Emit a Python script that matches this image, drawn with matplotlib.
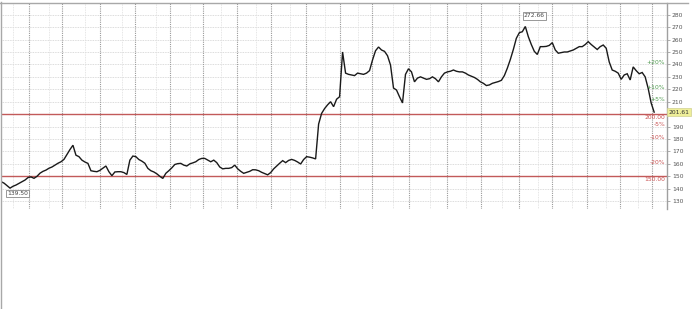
import matplotlib
matplotlib.use("Agg")
import matplotlib.pyplot as plt
from matplotlib.lines import Line2D
import numpy as np

# Closing prices, sampled at regular steps along the chart
close = [
    145.7, 144.5, 142.5, 140.5, 142.0, 143.0, 144.3, 145.5, 147.0, 149.0,
    149.5, 148.4, 150.0, 152.5, 154.0, 155.0, 156.5, 157.5, 159.0, 160.5,
    161.7, 163.6, 167.5, 171.5, 175.0, 167.0, 165.8, 163.0, 161.5, 160.4,
    154.5, 154.0, 153.7, 154.8, 156.5, 158.3, 153.7, 150.5, 153.5, 153.7,
    153.7, 153.0, 151.5, 163.0, 166.3, 165.8, 163.5, 162.2, 160.5, 156.4,
    154.5, 153.5, 152.0, 150.0, 148.3, 152.4, 154.5, 156.8, 159.5, 160.2,
    160.4, 159.0, 158.3, 160.0, 160.8, 161.7, 163.5, 164.4, 164.4, 163.0,
    161.7, 163.0, 161.0, 157.5, 156.0, 156.4, 156.4, 157.0, 159.0, 156.0,
    154.0, 152.4, 153.2, 154.0, 155.3, 155.2, 154.5, 153.2, 152.2, 151.2,
    153.0, 156.0, 158.3, 160.5, 162.6, 161.0, 162.8, 163.6, 162.8, 161.5,
    159.9, 163.5, 165.8, 165.4, 164.8, 164.0, 192.0, 200.6, 204.5, 207.5,
    210.0, 206.0, 212.0, 214.0, 250.0, 233.0, 232.0, 231.5, 231.0, 233.0,
    232.5, 232.0, 233.0, 235.0, 243.6, 251.0, 254.0, 251.6, 250.5, 247.0,
    239.5, 221.0, 219.4, 214.0, 209.0, 232.0, 236.5, 234.0, 226.0, 229.0,
    230.0, 229.0, 228.0, 228.5, 230.0, 228.5, 226.0, 230.0, 233.0, 234.0,
    234.5, 235.5, 234.5, 234.0, 234.0, 233.0, 231.5, 230.5, 229.5, 228.0,
    226.0, 224.8, 223.0, 223.5, 224.8, 225.5, 226.2, 227.2, 231.0, 237.0,
    244.0, 252.0, 261.0, 265.5, 266.3, 270.5, 262.3, 256.0, 250.5, 248.0,
    254.3, 254.3, 254.5, 255.3, 257.5, 251.6, 249.0, 249.5, 250.0, 250.0,
    250.8, 251.6, 253.0, 254.3, 254.3, 256.0, 258.3, 256.0, 254.0, 252.0,
    254.3, 255.6, 253.0, 242.0, 235.5, 234.5, 233.0, 228.0, 231.5, 232.5,
    227.5, 238.0, 235.0, 232.5, 233.5, 230.0, 220.8, 209.0, 201.61,
]
low_value = 139.50
high_value = 272.66
last_value = 201.61
ref_levels = [200.0, 150.0]
pct_levels = [20, 10, 5, -5, -10, -20]
yticks = list(range(130, 290, 10))
# month boundaries and mid-month markers, in sample positions
month_lines = [9.2, 20.3, 33.0, 44.8, 56.3, 67.4, 78.7, 90.0, 101.7, 113.3,
               123.9, 136.3, 148.7, 160.2, 173.0, 184.0, 195.7, 206.7, 217.3]
mid_lines = [3.9, 15.9, 28.1, 40.3, 51.7, 63.0, 73.3, 85.0, 96.5, 108.2,
             119.3, 130.8, 143.2, 155.2, 167.3, 179.2, 190.5, 201.8, 212.5]

idx = np.arange(len(close))

fig = plt.figure(figsize=(7.0, 3.09), dpi=100)
ax = fig.add_axes([0.0015, 0.3236, 0.9514, 0.6667])
ax.set_xlim(0, 222.3)
ax.set_ylim(123.7, 289.4)

# grid
for v in yticks:
    ax.axhline(v, color="#d0d0d0", lw=0.6, ls=(0, (1, 1)), zorder=0)
for v in mid_lines:
    ax.axvline(v, color="#dedede", lw=0.6, ls=(0, (1, 1)), zorder=0)
for v in month_lines:
    ax.axvline(v, color="#9a9a9a", lw=0.8, ls=(0, (1, 1)), zorder=0)

for lv in ref_levels:
    ax.axhline(lv, color="#c25a5a", lw=1.0, zorder=1)

ax.plot(idx, close, color="#1a1a1a", lw=1.0, zorder=3, solid_joinstyle="miter")

# spines / ticks
for s in ["left", "top", "bottom"]:
    ax.spines[s].set_visible(False)
ax.spines["right"].set_color("#a0a0a0")
ax.spines["right"].set_linewidth(1.0)
ax.set_xticks([])
ax.yaxis.tick_right()
ax.set_yticks(yticks)
# the 200 label is covered by the last-value box
ax.set_yticklabels(["" if v == 200 else str(v) for v in yticks])
ax.tick_params(axis="y", which="both", length=2, width=0.6, color="#a0a0a0",
               labelsize=4.3, labelcolor="#555555", pad=1.5)

# percentage marks relative to last value
xr = 221.7
for p in pct_levels:
    val = last_value * (1 + p / 100.0)
    txt = ("+%d%%" % p) if p > 0 else ("-%d%%" % (-p))
    col = "#4f9a4f" if p > 0 else "#c85050"
    ax.text(xr, val, txt, ha="right", va="center", fontsize=4.3, color=col, zorder=4)
for lv in ref_levels:
    ax.text(xr, lv - 2.4, "%.2f" % lv, ha="right", va="center", fontsize=4.3,
            color="#c85050", zorder=4)

# last value box
ax.text(222.9, last_value, "%.2f" % last_value, ha="left", va="center",
        fontsize=4.3, color="#333333", zorder=6, clip_on=False,
        bbox=dict(boxstyle="square,pad=0.25", fc="#eeee99", ec="#d0d090", lw=0.5))

# low / high labels
ax.text(5.5, 136.4, "%.2f" % low_value, ha="center", va="center", fontsize=4.3,
        color="#444444", zorder=5,
        bbox=dict(boxstyle="square,pad=0.2", fc="white", ec="#888888", lw=0.6))
ax.text(178.0, 279.0, "%.2f" % high_value, ha="center", va="center", fontsize=4.3,
        color="#444444", zorder=5,
        bbox=dict(boxstyle="square,pad=0.2", fc="white", ec="#888888", lw=0.6))

# frame lines outside axes
fig.add_artist(Line2D([0.0008, 0.0008], [0, 0.992], color="#a8a8a8", lw=1.0))
fig.add_artist(Line2D([0.0, 688 / 700], [0.9903, 0.9903], color="#a8a8a8", lw=1.0))

fig.savefig("out.png", dpi=100)
